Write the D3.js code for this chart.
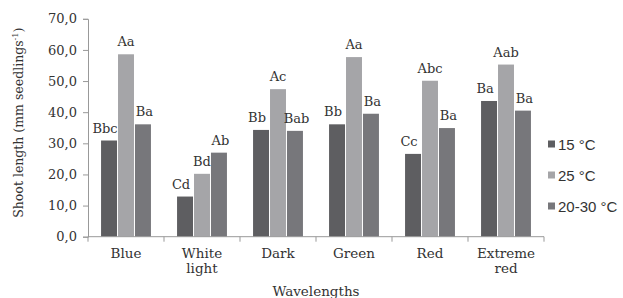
<!DOCTYPE html>
<html>
<head>
<meta charset="utf-8">
<script src="https://cdn.jsdelivr.net/npm/d3@7"></script>
<style>
  body { margin: 0; background: #fff; }
  text { font-family: "DejaVu Serif", serif; fill: #333; }
  .legend text { font-family: "Liberation Sans", Arial, sans-serif; }
</style>
</head>
<body>
<div id="chart"></div>
<script>
var categories = ["Blue", "White light", "Dark", "Green", "Red", "Extreme red"];
var series = ["15 °C", "25 °C", "20-30 °C"];
var colors = ["#5e5e61", "#a5a5a8", "#77777b"];

// shoot length per series (same order as categories)
var values15 = [30.9, 12.9, 34.3, 36.1, 26.6, 43.6];
var values25 = [58.6, 20.2, 47.4, 57.7, 50.1, 55.3];
var values2030 = [36.1, 27.0, 34.0, 39.5, 34.9, 40.5];

var letters15 = ["Bbc", "Cd", "Bb", "Bb", "Cc", "Ba"];
var letters25 = ["Aa", "Bd", "Ac", "Aa", "Abc", "Aab"];
var letters2030 = ["Ba", "Ab", "Bab", "Ba", "Ba", "Ba"];

var yTicks = [0, 10, 20, 30, 40, 50, 60, 70];

var svgWidth = 623;
var svgHeight = 298;
var margin = {top: 18.8, right: 79, bottom: 61.3, left: 88};
var width = svgWidth - margin.left - margin.right;
var height = svgHeight - margin.top - margin.bottom;

var svg = d3.select("#chart")
    .append("svg")
    .attr("width", svgWidth)
    .attr("height", svgHeight);

var chartGroup = svg.append("g")
    .attr("transform", `translate(${margin.left}, ${margin.top})`);

var allValues = [values15, values25, values2030];
var allLetters = [letters15, letters25, letters2030];

var rows = categories.map(function(c, i) {
    return {
        cat: c,
        bars: series.map(function(s, j) {
            return {s: s, j: j, v: allValues[j][i], label: allLetters[j][i]};
        })
    };
});

var x0 = d3.scaleBand()
    .domain(categories)
    .range([0, width]);

var x1 = d3.scaleBand()
    .domain(series)
    .range([0, x0.bandwidth()])
    .paddingOuter(0.74);

var y = d3.scaleLinear()
    .domain([0, 70])
    .range([height, 0]);

// y axis
var leftAxis = d3.axisLeft(y)
    .tickValues(yTicks)
    .tickSize(5)
    .tickFormat(d => d3.format(".1f")(d).replace(".", ","));

var yAxis = chartGroup.append("g").call(leftAxis);
yAxis.select(".domain").attr("stroke", "#999");
yAxis.selectAll(".tick line").attr("stroke", "#999");
yAxis.selectAll(".tick text")
    .attr("x", -11)
    .style("font-size", "13px")
    .style("font-family", "DejaVu Serif, serif")
    .attr("fill", "#333");

// bars
var groups = chartGroup.selectAll(".cat")
    .data(rows)
    .enter()
    .append("g")
    .attr("class", "cat")
    .attr("transform", d => `translate(${x0(d.cat)}, 0)`);

groups.selectAll("rect")
    .data(d => d.bars)
    .enter()
    .append("rect")
    .attr("x", d => x1(d.s) + 0.5)
    .attr("y", d => y(d.v))
    .attr("width", x1.bandwidth() - 1)
    .attr("height", d => height - y(d.v))
    .attr("fill", d => colors[d.j]);

var labelShift = [-4, 0, 1.5];
groups.selectAll(".lbl")
    .data(d => d.bars)
    .enter()
    .append("text")
    .attr("class", "lbl")
    .attr("x", d => x1(d.s) + x1.bandwidth() / 2 + labelShift[d.j])
    .attr("y", d => y(d.v) - 8)
    .attr("text-anchor", "middle")
    .style("font-size", "13px")
    .text(d => d.label);

// x axis with ticks at category boundaries
var xAxis = chartGroup.append("g")
    .attr("transform", `translate(0, ${height})`);
xAxis.append("line")
    .attr("x1", 0).attr("x2", width)
    .attr("stroke", "#999");
var bounds = categories.map(c => x0(c)).concat([width]);
xAxis.selectAll(".xt")
    .data(bounds)
    .enter()
    .append("line")
    .attr("x1", d => d).attr("x2", d => d)
    .attr("y1", 0).attr("y2", 5)
    .attr("stroke", "#999");

var catLabels = xAxis.selectAll(".cl")
    .data(categories)
    .enter()
    .append("text")
    .attr("class", "cl")
    .attr("x", d => x0(d) + x0.bandwidth() / 2)
    .attr("y", 21)
    .attr("text-anchor", "middle")
    .style("font-size", "13.5px");

catLabels.each(function(d) {
    var words = d.split(" ");
    var t = d3.select(this);
    words.forEach(function(w, k) {
        t.append("tspan")
            .attr("x", x0(d) + x0.bandwidth() / 2)
            .attr("dy", k === 0 ? 0 : 15.5)
            .text(w);
    });
});

// axis titles
chartGroup.append("text")
    .attr("x", width / 2)
    .attr("y", height + 59)
    .attr("text-anchor", "middle")
    .style("font-size", "13.5px")
    .text("Wavelengths");

var yTitle = chartGroup.append("text")
    .attr("transform", `translate(${-margin.left + 23}, ${height / 2 - 5})rotate(-90)`)
    .attr("text-anchor", "middle")
    .style("font-size", "12.5px");
yTitle.append("tspan").text("Shoot length (mm seedlings");
yTitle.append("tspan").attr("dy", -5).style("font-size", "8px").text("-1");
yTitle.append("tspan").attr("dy", 5).text(")");

// legend
var legend = svg.append("g")
    .attr("class", "legend")
    .attr("transform", "translate(548, 144)");

var items = legend.selectAll(".item")
    .data(series)
    .enter()
    .append("g")
    .attr("transform", (d, i) => `translate(0, ${i * 31})`);

items.append("rect")
    .attr("x", 0)
    .attr("y", -3.5)
    .attr("width", 7)
    .attr("height", 7)
    .attr("fill", (d, i) => colors[i]);

items.append("text")
    .attr("x", 10)
    .attr("y", 5.5)
    .style("font-size", "15px")
    .text(d => d);
</script>
</body>
</html>
